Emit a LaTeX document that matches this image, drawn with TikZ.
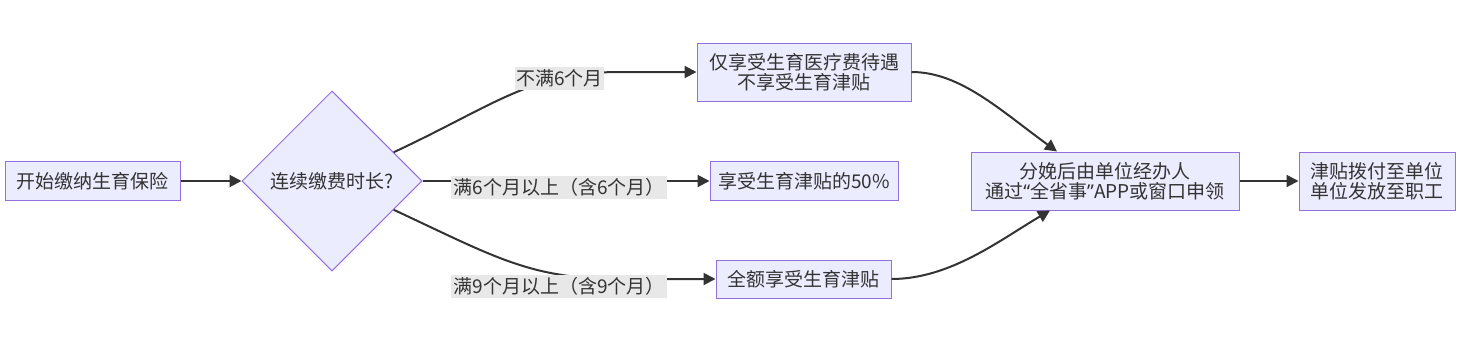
\documentclass[tikz,border=0pt]{standalone}
\usepackage{fontspec}
\setmainfont{Noto Sans CJK SC}
\newfontfamily\quotefont{Noto Sans}
\usetikzlibrary{shapes.geometric,arrows.meta}
\definecolor{boxfill}{HTML}{ECECFF}
\definecolor{boxline}{HTML}{9370DB}
\definecolor{linkcol}{HTML}{333333}
\definecolor{lblfill}{HTML}{E8E8E8}
\tikzset{
box/.style={draw=boxline,fill=boxfill,text=linkcol,align=center,inner sep=0pt,line width=0.5pt,font=\fontsize{9.5}{10}\selectfont},
cond/.style={box,diamond,aspect=1,minimum width=90pt,minimum height=90pt},
lbl/.style={fill=lblfill,text=linkcol,inner sep=0pt,minimum height=11.5pt,font=\fontsize{9.5}{10}\selectfont},
link/.style={draw=linkcol,line width=1pt,-{Triangle[length=6pt,width=6pt]}}
}
\begin{document}
\begin{tikzpicture}[x=0.5pt,y=-0.5pt]
\useasboundingbox (0,0) rectangle (1460,338);
\node[box,minimum width=87.5pt,minimum height=19.5pt] (start) at (92.5,181) {开始缴纳生育保险};
\node[cond] (q) at (332,181) {连续缴费时长?};
\node[box,minimum width=107pt,minimum height=29pt] (A) at (804,72) {仅享受生育医疗费待遇\\不享受生育津贴};
\node[box,minimum width=94pt,minimum height=19.5pt] (B) at (804,181) {享受生育津贴的50\%};
\node[box,minimum width=87.5pt,minimum height=19pt] (C) at (803.5,279) {全额享受生育津贴};
\node[box,minimum width=134pt,minimum height=29pt] (D) at (1105,181) {分娩后由单位经办人\\通过{\quotefont “}全省事{\quotefont ”}APP或窗口申领};
\node[box,minimum width=78pt,minimum height=29pt] (E) at (1377,181) {津贴拨付至单位\\单位发放至职工};
\coordinate (d1) at ([xshift=-24pt]D.north);
\coordinate (d2) at ([xshift=-27.5pt]D.south);
\draw[link] (start) -- (q.west);
\draw[link] (q.25) .. controls (495,105) and (530,72) .. (620,72) -- (A.west);
\draw[link] (q.east) -- (B.west);
\draw[link] (q.-25) .. controls (495,257) and (530,279) .. (620,279) -- (C.west);
\draw[link] (A.east) .. controls (960,72) and (1000,110) .. (d1);
\draw[link] (C.east) .. controls (950,279) and (1000,240) .. (d2);
\draw[link] (D) -- (E);
\node[lbl,minimum width=44.5pt] (l1) at (559.5,78.5) {不满6个月};
\node[lbl,minimum width=108pt] (l2) at (559,187) {满6个月以上（含6个月）};
\node[lbl,minimum width=108pt] (l3) at (559,286) {满9个月以上（含9个月）};
\end{tikzpicture}
\end{document}
